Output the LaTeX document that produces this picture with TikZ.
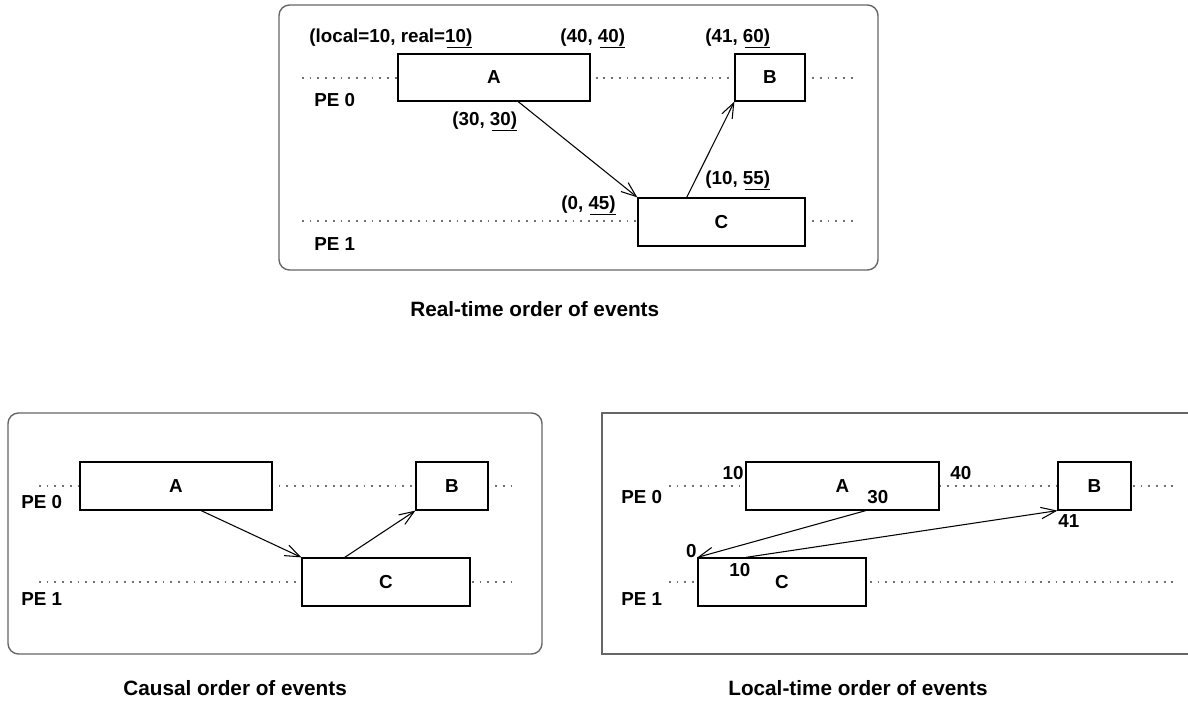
\documentclass[tikz,border=0pt]{standalone}
\usepackage{fontspec}
\setmainfont{Liberation Sans}
\usetikzlibrary{arrows.meta,fit,calc}
\newcommand{\ulnum}[1]{\setbox0\hbox{#1}\rlap{\kern1pt\rule[-2.8pt]{\dimexpr\wd0+2.5pt\relax}{0.7pt}}\box0}
\begin{document}
\begin{tikzpicture}[
			x=0.02cm, y=-0.02cm,
			every node/.style={font=\fontsize{10.7}{12}\selectfont\bfseries},
			evbox/.style={draw, fill=white, inner sep=0pt, line width=0.7pt},
			lbl/.style={inner sep=0pt, anchor=base west},
			lblr/.style={inner sep=0pt, anchor=base east},
			titletext/.style={inner sep=0pt, anchor=base west, font=\fontsize{11.8}{13}\selectfont\bfseries},
			timeline/.style={draw=black!55, line width=1pt, dash pattern=on 1pt off 3.4pt},
			panel/.style={draw=black!60, line width=0.8pt},
			msg/.style={-{Straight Barb[length=8.5pt,width=6.5pt]}, line width=0.6pt},
			]
			\useasboundingbox (0,0) rectangle (1188,702);
			% real time
			\draw[panel, rounded corners=6pt] (279,5) rectangle (878,270);
			\draw[timeline] (302,78) -- (856,78);
			\draw[timeline] (302,221) -- (856,221);
			\node[evbox, fit={(398,54) (590,101)}, label=center:A] (tA) {};
			\node[evbox, fit={(735,54) (805,101)}, label=center:B] (tB) {};
			\node[evbox, fit={(638,198) (805,246)}, label=center:C] (tC) {};
			\draw[msg] ($(tA.south west)!0.625!(tA.south east)$) -- (tC.north west);
			\draw[msg] ($(tC.north west)!0.293!(tC.north east)$) -- (tB.south west);
			\node[lbl] (tAin) at (309,43) {(local=10, real=\ulnum{10})};
			\node[lbl] (tAout) at (560,43) {(40, \ulnum{40})};
			\node[lbl] (tBin) at (705,43) {(41, \ulnum{60})};
			\node[lbl] (tAsend) at (452,126) {(30, \ulnum{30})};
			\node[lbl] (tCsend) at (705,185) {(10, \ulnum{55})};
			\node[lbl] (tCin) at (561,210) {(0, \ulnum{45})};
			\node[lbl] (tpe0) at (314,107) {PE 0};
			\node[lbl] (tpe1) at (314,251) {PE 1};
			\node[titletext] (ttitle) at (410,317) {Real-time order of events};
			% causal
			\draw[panel, rounded corners=6pt] (8,413) rectangle (542,654);
			\draw[timeline] (39,486) -- (512,486);
			\draw[timeline] (39,582) -- (513,582);
			\node[evbox, fit={(80,462) (272,510)}, label=center:A] (cA) {};
			\node[evbox, fit={(416,462) (488,510)}, label=center:B] (cB) {};
			\node[evbox, fit={(302,558) (470,606)}, label=center:C] (cC) {};
			\draw[msg] ($(cA.south west)!0.63!(cA.south east)$) -- (cC.north west);
			\draw[msg] ($(cC.north west)!0.256!(cC.north east)$) -- (cB.south west);
			\node[lbl] (cpe0) at (21,509) {PE 0};
			\node[lbl] (cpe1) at (21,606) {PE 1};
			\node[titletext] (ctitle) at (123,696) {Causal order of events};
			% local time
			\draw[panel] (1188,413) -| (602,654) -- (1188,654);
			\draw[timeline] (669,486) -- (1173,486);
			\draw[timeline] (669,582) -- (1173,582);
			\node[evbox, fit={(746,462) (939,510)}, label=center:A] (lA) {};
			\node[evbox, fit={(1058,462) (1131,510)}, label=center:B] (lB) {};
			\node[evbox, fit={(698,558) (866,606)}, label=center:C] (lC) {};
			\draw[msg] ($(lA.south west)!0.62!(lA.south east)$) -- (lC.north west);
			\draw[msg] ($(lC.north west)!0.286!(lC.north east)$) -- (lB.south west);
			\node[lblr] (lAin) at (744,480) {10};
			\node[lbl] (lAout) at (950,480) {40};
			\node[lbl] (lAsend) at (867,504) {30};
			\node[lbl] (lBin) at (1058,528) {41};
			\node[lblr] (lCin) at (697,558) {0};
			\node[lbl] (lCsend) at (729,577) {10};
			\node[lbl] (lpe0) at (621,504) {PE 0};
			\node[lbl] (lpe1) at (621,606) {PE 1};
			\node[titletext] (ltitle) at (728,696) {Local-time order of events};
		\end{tikzpicture}
\end{document}
